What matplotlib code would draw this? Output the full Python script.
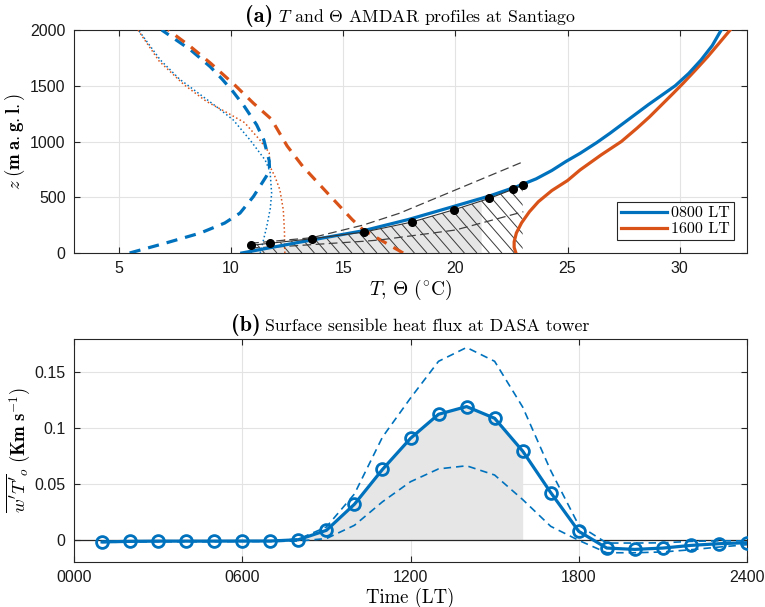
import numpy as np
import matplotlib
matplotlib.use("Agg")
import matplotlib.pyplot as plt
from matplotlib.offsetbox import TextArea, HPacker, AnchoredOffsetbox
from matplotlib.patches import Polygon
from matplotlib.collections import LineCollection

plt.rcParams['mathtext.fontset'] = 'cm'
plt.rcParams['font.family'] = ['Liberation Sans', 'DejaVu Sans']
plt.rcParams['axes.unicode_minus'] = False

BLUE = '#0072BD'
ORANGE = '#D95319'

# ---------------- Panel (a) data ----------------
# 0800 LT solid (Theta)
theta08_T = [10.48, 13.0, 15.9, 17.9, 19.93, 21.5, 22.76, 23.6, 24.3, 24.93, 25.56, 26.3,
             26.9, 27.8, 28.6, 29.2, 29.8, 30.4, 30.95, 31.45, 31.85]
theta08_z = [0, 95, 200, 300, 418, 510, 597, 665, 740, 821, 894, 990,
             1075, 1210, 1330, 1415, 1500, 1610, 1731, 1860, 2000]
# 1600 LT solid (Theta)
theta16_T = [22.7, 22.62, 22.62, 22.72, 22.95, 23.3, 23.7, 24.3, 25.0, 25.56, 26.5, 27.4,
             28.1, 28.65, 29.2, 29.7, 30.15, 30.7, 31.25, 31.75, 32.25]
theta16_z = [0, 50, 100, 180, 270, 370, 460, 560, 650, 745, 880, 1000,
             1120, 1220, 1330, 1430, 1522, 1640, 1761, 1880, 2000]
# 0800 LT dashed (T)
t08_T = [5.48, 7.1, 8.63, 9.72, 10.4, 11.0, 11.57, 11.72, 11.7, 11.46, 11.14, 10.6, 10.09, 9.6, 9.07, 8.2, 6.91]
t08_z = [0, 90, 179, 269, 358, 507, 687, 740, 830, 1015, 1150, 1313, 1447, 1560, 1671, 1821, 2000]
# 1600 LT dashed (T)
t16_T = [17.67, 16.9, 15.9, 15.4, 14.3, 13.2, 12.5, 11.8, 11.0, 10.2, 9.1, 8.2, 7.2]
t16_z = [0, 90, 206, 300, 537, 776, 960, 1200, 1343, 1500, 1700, 1850, 2000]
# 0800 LT dotted
d08_T = [11.3, 11.45, 11.59, 11.75, 11.81, 11.74, 11.52, 10.85, 10.1, 9.3, 8.5, 7.7, 6.85, 5.87]
d08_z = [0, 120, 236, 400, 535, 729, 834, 1013, 1193, 1320, 1440, 1560, 1731, 2000]
# 1600 LT dotted
d16_T = [12.4, 12.38, 12.33, 12.18, 11.96, 11.74, 11.7, 11.3, 10.6, 9.9, 8.9, 7.9, 6.8, 5.85]
d16_z = [0, 200, 386, 565, 684, 774, 900, 1010, 1170, 1250, 1360, 1510, 1720, 2000]
# observations (black dots)
obs_T = [10.89, 11.72, 13.61, 15.94, 18.07, 19.94, 21.52, 22.56, 23.0]
obs_z = [69, 87, 128, 188, 278, 388, 490, 571, 613]
# dashed envelopes
up_T = [10.85, 13.6, 15.9, 17.5, 20.0, 23.03]
up_z = [87, 137, 251, 356, 565, 819]
lo_T = [10.85, 12.3, 15.9, 16.64, 20.0, 23.03]
lo_z = [45, 58, 105, 117, 206, 370]
gray_T_end = 21.15

# ---------------- Panel (b) data ----------------
hours = list(range(1, 25))
flux = [-0.002, -0.0015, -0.0013, -0.0013, -0.0013, -0.0012, -0.0012, 0.0, 0.0084, 0.0318,
        0.063, 0.0909, 0.1125, 0.1194, 0.1089, 0.0795, 0.0423, 0.0075, -0.0075, -0.0087,
        -0.0075, -0.0051, -0.0036, -0.0027]
flux_up = [-0.0015, -0.0012, -0.001, -0.001, -0.001, -0.001, -0.001, 0.0005, 0.0114, 0.041,
           0.092, 0.127, 0.160, 0.1724, 0.160, 0.119, 0.062, 0.0129, -0.003, -0.003,
           -0.0028, -0.0015, -0.001, -0.001]
flux_lo = [-0.0025, -0.002, -0.0018, -0.0018, -0.0018, -0.0016, -0.0016, -0.0012, 0.001, 0.0129,
           0.034, 0.052, 0.0635, 0.0663, 0.058, 0.036, 0.012, -0.0006, -0.0117, -0.0117,
           -0.011, -0.009, -0.0066, -0.0045]
fill_end_hour = 16
xtick_hours = [0, 6, 12, 18, 24]
xtick_labels = ['0000', '0600', '1200', '1800', '2400']

W, H = 765, 607
AX_W, AX_H = 673, 223
fig = plt.figure(figsize=(W / 100, H / 100), dpi=100)
axa = fig.add_axes([74 / W, 1 - 253 / H, AX_W / W, AX_H / H])
axb = fig.add_axes([74 / W, 1 - 562 / H, AX_W / W, AX_H / H])

def style(ax):
    ax.grid(True, color='#e3e3e3', linewidth=0.8)
    ax.set_axisbelow(True)
    for s in ax.spines.values():
        s.set_color('#262626')
        s.set_linewidth(0.8)
    ax.tick_params(direction='in', top=True, right=True, length=4, width=0.8,
                   color='#262626', labelsize=11.5, labelcolor='#1a1a1a', pad=6)

def title(ax, tag, rest):
    t1 = TextArea(tag, textprops=dict(fontfamily='cmb10', fontsize=16, color='k'))
    t2 = TextArea(rest, textprops=dict(fontfamily='cmr10', fontsize=12.8, color='k'))
    box = HPacker(children=[t1, t2], align='baseline', pad=0, sep=3)
    ab = AnchoredOffsetbox(loc='lower center', child=box, pad=0, frameon=False,
                           bbox_to_anchor=(0.5, 1.012), bbox_transform=ax.transAxes,
                           borderpad=0)
    ax.add_artist(ab)

# ---- panel a ----
style(axa)
axa.set_xlim(3, 33)
axa.set_ylim(0, 2000)
axa.set_xticks([5, 10, 15, 20, 25, 30])
axa.set_yticks([0, 500, 1000, 1500, 2000])

# gray fill under blue/obs line
Tg = np.linspace(theta08_T[0], gray_T_end, 200)
top_blue = np.interp(Tg, theta08_T, theta08_z)
top_obs = np.interp(Tg, obs_T, obs_z, left=1e9)
topg = np.minimum(top_blue, top_obs)
axa.fill_between(Tg, 0, topg, color='#e6e6e6', linewidth=0, zorder=1)

# hatched region below observation line (manual diagonal hatch, clipped)
hatch_verts = list(zip(obs_T, obs_z)) + [(obs_T[-1], 0), (obs_T[0], 0)]
hp = Polygon(hatch_verts, closed=True, facecolor='none', edgecolor='none', linewidth=0)
axa.add_patch(hp)
k = 1.15 * AX_W / AX_H          # slope in axes units
step = 12.5 / AX_W              # spacing in axes units
segs = [[(x0, 0.0), (x0 - 1.0 / k, 1.0)] for x0 in np.arange(-0.2, 1.6, step)]
lc = LineCollection(segs, colors='#3a3a3a', linewidths=0.7, transform=axa.transAxes, zorder=2)
axa.add_collection(lc)
lc.set_clip_path(hp)

axa.plot(d08_T, d08_z, ':', color=BLUE, lw=1.1, zorder=3)
axa.plot(d16_T, d16_z, ':', color=ORANGE, lw=1.1, zorder=3)
axa.plot(t08_T, t08_z, color=BLUE, lw=2.3, dashes=(3.5, 2.5), zorder=3)
axa.plot(t16_T, t16_z, color=ORANGE, lw=2.3, dashes=(3.5, 2.5), zorder=3)
axa.plot(up_T, up_z, color='#404040', lw=0.9, dashes=(7, 3.5), zorder=4)
axa.plot(lo_T, lo_z, color='#404040', lw=0.9, dashes=(7, 3.5), zorder=4)
l2, = axa.plot(theta16_T, theta16_z, color=ORANGE, lw=2.3, zorder=5)
l1, = axa.plot(theta08_T, theta08_z, color=BLUE, lw=2.3, zorder=5)
axa.plot(obs_T, obs_z, color='#333333', lw=0.8, zorder=6)
axa.plot(obs_T, obs_z, 'o', color='k', ms=5.5, zorder=7)

leg = axa.legend([l1, l2], ['0800 LT', '1600 LT'], loc='lower right',
                 prop=dict(family='cmr10', size=11.5), fancybox=False,
                 edgecolor='#262626', framealpha=1, handlelength=2.9,
                 borderaxespad=0.8, borderpad=0.25, labelspacing=0.1, handletextpad=0.25)
leg.get_frame().set_linewidth(0.8)

axa.set_xlabel(r'$T$, $\Theta$ ($^{\circ}$C)', fontfamily='cmr10', fontsize=14, labelpad=1)
axa.set_ylabel(r'$z\;\mathbf{(m\;a.g.l.)}$', fontsize=13.5, labelpad=2)
title(axa, '(a)', r'$T$ and $\Theta$ AMDAR profiles at Santiago')

# ---- panel b ----
style(axb)
axb.set_xlim(0, 24)
axb.set_ylim(-0.02, 0.18)
axb.set_xticks(xtick_hours)
axb.set_xticklabels(xtick_labels)
axb.set_yticks([0, 0.05, 0.1, 0.15])
axb.set_yticklabels(['0', '0.05', '0.1', '0.15'])

hf = np.array(hours, dtype=float)
ff = np.array(flux)
mask = (hf >= 8) & (hf <= fill_end_hour)
axb.fill_between(hf[mask], 0, ff[mask], color='#e6e6e6', linewidth=0, zorder=1)
axb.axhline(0, color='#262626', lw=0.9, zorder=2)
axb.plot(hours, flux_up, color=BLUE, lw=1.2, dashes=(4.5, 3), zorder=3)
axb.plot(hours, flux_lo, color=BLUE, lw=1.2, dashes=(4.5, 3), zorder=3)
axb.plot(hours, flux, '-o', color=BLUE, lw=2.3, ms=8.5, mfc='none', mew=2.0, zorder=4)

axb.set_xlabel('Time (LT)', fontfamily='cmr10', fontsize=13.5, labelpad=2)
axb.set_ylabel(r"$\overline{w^{\prime}T^{\prime}}_o\;\mathbf{(Km\;s^{-1})}$", fontsize=13.5, labelpad=2)
title(axb, '(b)', 'Surface sensible heat flux at DASA tower')

fig.savefig('out.png', dpi=100)
